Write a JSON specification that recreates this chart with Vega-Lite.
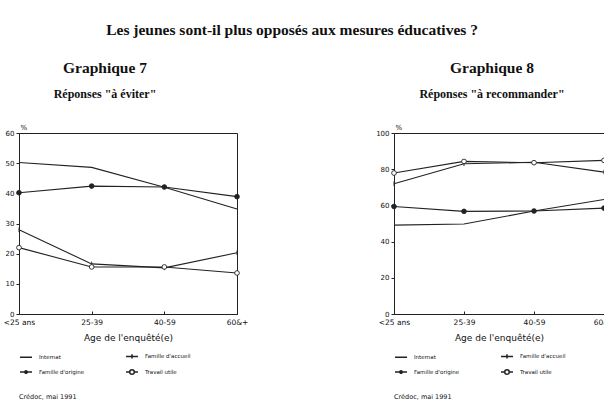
{
  "$schema": "https://vega.github.io/schema/vega-lite/v6.json",
  "padding": {"left": 2, "top": 22, "right": 0, "bottom": 0},
  "background": "white",
  "config": {
    "view": {"stroke": "#222", "strokeWidth": 1},
    "font": "DejaVu Sans",
    "axis": {"grid": false, "domainColor": "#222", "tickColor": "#222", "labelColor": "#111", "titleColor": "#111", "labelFont": "DejaVu Sans", "titleFont": "DejaVu Sans", "titleFontWeight": "normal"},
    "title": {"font": "Liberation Serif", "fontWeight": "bold", "color": "#111", "subtitleFont": "Liberation Serif", "subtitleFontWeight": "bold", "subtitleColor": "#111"},
    "legend": {"labelFont": "DejaVu Sans", "titleFont": "DejaVu Sans"}
  },
  "title": {"text": "Les jeunes sont-il plus opposés aux mesures éducatives ?", "fontSize": 15.5, "anchor": "middle", "offset": 22, "dx": -17},
  "datasets": {
    "g7": [
      {"age": "<25 ans", "serie": "Internat", "value": 50.2},
      {"age": "25-39", "serie": "Internat", "value": 48.6},
      {"age": "40-59", "serie": "Internat", "value": 42.0},
      {"age": "60&+", "serie": "Internat", "value": 34.8},
      {"age": "<25 ans", "serie": "Famille d'origine", "value": 40.2},
      {"age": "25-39", "serie": "Famille d'origine", "value": 42.4},
      {"age": "40-59", "serie": "Famille d'origine", "value": 42.1},
      {"age": "60&+", "serie": "Famille d'origine", "value": 38.9},
      {"age": "<25 ans", "serie": "Famille d'accueil", "value": 27.9},
      {"age": "25-39", "serie": "Famille d'accueil", "value": 16.6},
      {"age": "40-59", "serie": "Famille d'accueil", "value": 15.3},
      {"age": "60&+", "serie": "Famille d'accueil", "value": 20.3},
      {"age": "<25 ans", "serie": "Travail utile", "value": 22.0},
      {"age": "25-39", "serie": "Travail utile", "value": 15.6},
      {"age": "40-59", "serie": "Travail utile", "value": 15.6},
      {"age": "60&+", "serie": "Travail utile", "value": 13.6}
    ],
    "g8": [
      {"age": "<25 ans", "serie": "Internat", "value": 49.1},
      {"age": "25-39", "serie": "Internat", "value": 49.7},
      {"age": "40-59", "serie": "Internat", "value": 56.9},
      {"age": "60&+", "serie": "Internat", "value": 63.3},
      {"age": "<25 ans", "serie": "Famille d'origine", "value": 59.4},
      {"age": "25-39", "serie": "Famille d'origine", "value": 56.7},
      {"age": "40-59", "serie": "Famille d'origine", "value": 56.9},
      {"age": "60&+", "serie": "Famille d'origine", "value": 58.5},
      {"age": "<25 ans", "serie": "Famille d'accueil", "value": 72.0},
      {"age": "25-39", "serie": "Famille d'accueil", "value": 83.0},
      {"age": "40-59", "serie": "Famille d'accueil", "value": 83.8},
      {"age": "60&+", "serie": "Famille d'accueil", "value": 78.4},
      {"age": "<25 ans", "serie": "Travail utile", "value": 77.9},
      {"age": "25-39", "serie": "Travail utile", "value": 84.3},
      {"age": "40-59", "serie": "Travail utile", "value": 83.6},
      {"age": "60&+", "serie": "Travail utile", "value": 84.9}
    ]
  },
  "hconcat": [
    {
      "width": 218,
      "height": 181,
      "data": {"name": "g7"},
      "title": {"text": "Graphique 7", "subtitle": "Réponses \"à éviter\"", "fontSize": 15.5, "subtitleFontSize": 12, "subtitlePadding": 13, "anchor": "middle", "dx": -23, "offset": 23},
      "encoding": {
        "x": {"field": "age", "type": "ordinal", "sort": ["<25 ans", "25-39", "40-59", "60&+"], "scale": {"padding": 0}, "axis": {"labelAngle": 0, "labelFontSize": 7.5, "tickSize": -3, "labelPadding": 7, "title": "Age de l'enquêté(e)", "titleFontSize": 9, "titlePadding": 8}},
        "y": {"field": "value", "type": "quantitative", "scale": {"domain": [0, 60], "nice": false}, "axis": {"values": [0, 10, 20, 30, 40, 50, 60], "labelFontSize": 7, "tickSize": 3, "labelPadding": 2, "title": "%", "titleAngle": 0, "titleAlign": "left", "titleBaseline": "bottom", "titleX": 1, "titleY": -3, "titleFontSize": 7}}
      },
      "layer": [
        {"mark": {"type": "line", "color": "#222", "strokeWidth": 1.1}, "encoding": {"detail": {"field": "serie"}}},
        {"mark": {"type": "point", "filled": true, "stroke": "#222", "strokeWidth": 0.9, "size": 22, "opacity": 1},
         "encoding": {
           "fill": {"condition": {"test": "datum.serie === 'Travail utile'", "value": "white"}, "value": "#222"},
           "shape": {"field": "serie", "legend": null, "scale": {"domain": ["Internat", "Famille d'accueil", "Famille d'origine", "Travail utile"], "range": ["M0,0", "M0,-1V1", "circle", "circle"]}}}},
        {"transform": [{"filter": "datum.value < 0"}],
         "mark": {"type": "point", "filled": false, "color": "#222", "stroke": "#222", "strokeWidth": 1, "size": 144, "opacity": 1},
         "encoding": {"shape": {"field": "serie", "scale": {"domain": ["Internat", "Famille d'accueil", "Famille d'origine", "Travail utile"], "range": ["M-1,0H1", "M-1,0H1M0,-0.35V0.35", "M-1,0H1M-0.2,0A0.2,0.2 0 1,1 0.2,0A0.2,0.2 0 1,1 -0.2,0ZM-0.09,0A0.09,0.09 0 1,1 0.09,0A0.09,0.09 0 1,1 -0.09,0Z", "M-1,0H-0.38M0.38,0H1M-0.38,0A0.38,0.38 0 1,1 0.38,0A0.38,0.38 0 1,1 -0.38,0Z"]},
           "legend": {"orient": "bottom", "direction": "horizontal", "columns": 2, "columnPadding": 38, "rowPadding": 3, "labelFontSize": 5.5, "labelColor": "#111", "symbolSize": 144, "labelOffset": 6, "title": "Crédoc, mai 1991", "titleOrient": "bottom", "titleAnchor": "start", "titleFontSize": 6.5, "titleFontWeight": "normal", "titleColor": "#111", "titlePadding": 17, "offset": 6,
             "encode": {"symbols": {"update": {"stroke": {"value": "#222"}, "strokeWidth": {"value": 1}, "fill": {"value": "transparent"}, "size": {"value": 144}, "opacity": {"value": 1}}}}}}}}
      ],
      "resolve": {"scale": {"shape": "independent"}}
    },
    {
      "width": 210,
      "height": 181,
      "data": {"name": "g8"},
      "title": {"text": "Graphique 8", "subtitle": "Réponses \"à recommander\"", "fontSize": 15.5, "subtitleFontSize": 12, "subtitlePadding": 13, "anchor": "middle", "dx": -7, "offset": 23},
      "encoding": {
        "x": {"field": "age", "type": "ordinal", "sort": ["<25 ans", "25-39", "40-59", "60&+"], "scale": {"padding": 0}, "axis": {"labelAngle": 0, "labelFontSize": 7.5, "tickSize": -3, "labelPadding": 7, "title": "Age de l'enquêté(e)", "titleFontSize": 9, "titlePadding": 8}},
        "y": {"field": "value", "type": "quantitative", "scale": {"domain": [0, 100], "nice": false}, "axis": {"values": [0, 20, 40, 60, 80, 100], "labelFontSize": 7, "tickSize": 3, "labelPadding": 2, "title": "%", "titleAngle": 0, "titleAlign": "left", "titleBaseline": "bottom", "titleX": 1, "titleY": -3, "titleFontSize": 7}}
      },
      "layer": [
        {"mark": {"type": "line", "color": "#222", "strokeWidth": 1.1}, "encoding": {"detail": {"field": "serie"}}},
        {"mark": {"type": "point", "filled": true, "stroke": "#222", "strokeWidth": 0.9, "size": 22, "opacity": 1},
         "encoding": {
           "fill": {"condition": {"test": "datum.serie === 'Travail utile'", "value": "white"}, "value": "#222"},
           "shape": {"field": "serie", "legend": null, "scale": {"domain": ["Internat", "Famille d'accueil", "Famille d'origine", "Travail utile"], "range": ["M0,0", "M0,-1V1", "circle", "circle"]}}}},
        {"transform": [{"filter": "datum.value < 0"}],
         "mark": {"type": "point", "filled": false, "color": "#222", "stroke": "#222", "strokeWidth": 1, "size": 144, "opacity": 1},
         "encoding": {"shape": {"field": "serie", "scale": {"domain": ["Internat", "Famille d'accueil", "Famille d'origine", "Travail utile"], "range": ["M-1,0H1", "M-1,0H1M0,-0.35V0.35", "M-1,0H1M-0.2,0A0.2,0.2 0 1,1 0.2,0A0.2,0.2 0 1,1 -0.2,0ZM-0.09,0A0.09,0.09 0 1,1 0.09,0A0.09,0.09 0 1,1 -0.09,0Z", "M-1,0H-0.38M0.38,0H1M-0.38,0A0.38,0.38 0 1,1 0.38,0A0.38,0.38 0 1,1 -0.38,0Z"]},
           "legend": {"orient": "bottom", "direction": "horizontal", "columns": 2, "columnPadding": 38, "rowPadding": 3, "labelFontSize": 5.5, "labelColor": "#111", "symbolSize": 144, "labelOffset": 6, "title": "Crédoc, mai 1991", "titleOrient": "bottom", "titleAnchor": "start", "titleFontSize": 6.5, "titleFontWeight": "normal", "titleColor": "#111", "titlePadding": 17, "offset": 6,
             "encode": {"symbols": {"update": {"stroke": {"value": "#222"}, "strokeWidth": {"value": 1}, "fill": {"value": "transparent"}, "size": {"value": 144}, "opacity": {"value": 1}}}}}}}}
      ],
      "resolve": {"scale": {"shape": "independent"}}
    }
  ],
  "spacing": 126,
  "resolve": {"scale": {"shape": "independent"}, "legend": {"shape": "independent"}}
}
